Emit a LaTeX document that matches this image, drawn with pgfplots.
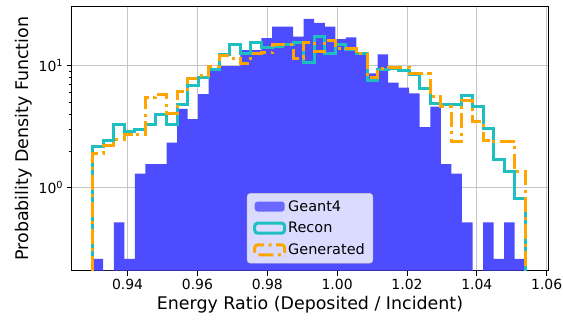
\documentclass[border=0pt]{standalone}
\usepackage{fontspec}
\setmainfont{DejaVu Sans}
\usepackage{pgfplots}
\pgfplotsset{compat=1.18}
\definecolor{geant}{HTML}{4D4DFF}
\definecolor{recon}{HTML}{1FBFBF}
\definecolor{gen}{HTML}{FFA500}
\begin{document}
\begin{tikzpicture}
\path[use as bounding box] (0bp,0bp) rectangle (563bp,323bp);
\begin{axis}[
  at={(71.7bp,52.3bp)}, anchor=south west,
  width=476.6bp, height=264bp, scale only axis,
  ymode=log,
  xmin=0.92400, xmax=1.06046,
  ymin=0.2088, ymax=30.45,
  log origin y=infty,
  xtick={0.94,0.96,0.98,1.00,1.02,1.04,1.06},
  xticklabel style={/pgf/number format/.cd, fixed, fixed zerofill, precision=2, assume math mode=true},
  ytick={1,10},
  yticklabels={10\textsuperscript{0},10\textsuperscript{1}},
  tick label style={font=\fontsize{14}{16}\selectfont, black},
  xtick pos=bottom, ytick pos=left,
  tick align=outside,
  major tick length=5bp, minor tick length=3bp,
  tick style={black, line width=0.8bp},
  grid=major,
  major grid style={gray!45, line width=0.8bp},
  axis line style={black, line width=1bp},
  xlabel={Energy Ratio (Deposited / Incident)},
  ylabel={Probability Density Function},
  label style={font=\fontsize{17.5}{20}\selectfont},
  legend style={at={(0.5,0.028)}, anchor=south, fill=white, fill opacity=0.8, draw opacity=1, text opacity=1, draw=black!20, rounded corners=3bp, font=\fontsize{14.5}{17}\selectfont, row sep=5.5bp, inner xsep=6bp, inner ysep=5bp},
  legend cell align=left,
  clip=true,
]
\addplot[ybar interval, fill=geant, draw=none,
  legend image code/.code={\fill[geant] (0bp,-5bp) rectangle (30bp,5bp);}]
coordinates {
(0.93000,0.2605) (0.93302,0.0001) (0.93604,0.521) (0.93906,0.2605)
(0.94208,1.3025) (0.94511,1.563) (0.94813,1.563) (0.95115,2.3445)
(0.95417,4.4285) (0.95719,3.647) (0.96021,5.86) (0.96323,9.52)
(0.96625,9.90) (0.96927,9.90) (0.97229,13.4) (0.97532,13.4)
(0.97834,16.8) (0.98136,20.9) (0.98438,20.9) (0.98740,17.3)
(0.99042,24.2) (0.99344,22.4) (0.99646,20.9) (0.99948,16.5)
(1.00250,17.1) (1.00553,12.4) (1.00855,8.66) (1.01157,12.4)
(1.01459,7.26) (1.01761,6.6) (1.02063,5.94) (1.02365,3.13)
(1.02667,4.61) (1.02969,1.563) (1.03271,1.3025) (1.03574,0.521)
(1.03876,0.0001) (1.04178,0.521) (1.04480,0.2605) (1.04782,0.521)
(1.05084,0.2605) (1.05386,0.2605)
};
\addlegendentry{Geant4}
\addplot[const plot, recon, line width=3bp,
  legend image code/.code={\draw[recon, line width=3bp] (0bp,-5bp) rectangle (30bp,5bp);}]
coordinates {
(0.93000,0.0001)
(0.93000,2.168) (0.93302,2.460) (0.93604,3.266) (0.93906,2.877)
(0.94208,2.972) (0.94511,3.266) (0.94813,3.945) (0.95115,3.266)
(0.95417,4.763) (0.95719,6.818) (0.96021,8.078) (0.96323,9.22)
(0.96625,12.24) (0.96927,15.06) (0.97229,12.47) (0.97532,15.35)
(0.97834,13.97) (0.98136,14.50) (0.98438,15.06) (0.98740,15.64)
(0.99042,10.72) (0.99344,17.29) (0.99646,12.64) (0.99948,14.78)
(1.00250,13.45) (1.00553,12.64) (1.00855,7.63) (1.01157,9.22)
(1.01459,9.52) (1.01761,9.05) (1.02063,8.39) (1.02365,6.53)
(1.02667,4.92) (1.02969,4.85) (1.03271,4.85) (1.03574,5.75)
(1.03876,4.61) (1.04178,3.03) (1.04480,1.687) (1.04782,1.352)
(1.05084,0.819) (1.05386,0.0001)
};
\addlegendentry{Recon}
\addplot[const plot, gen, line width=3bp, dash pattern=on 15bp off 4.5bp on 3bp off 4.5bp,
  legend image code/.code={\draw[gen, line width=3bp, dash pattern=on 15bp off 4.5bp on 3bp off 4.5bp] (0bp,-5bp) rectangle (30bp,5bp);}]
coordinates {
(0.93000,0.0001)
(0.93000,1.906) (0.93302,2.197) (0.93604,2.507) (0.93906,2.754)
(0.94208,2.704) (0.94511,5.485) (0.94813,5.86) (0.95115,4.02)
(0.95417,6.12) (0.95719,7.88) (0.96021,8.24) (0.96323,9.94)
(0.96625,12.01) (0.96927,11.56) (0.97229,10.52) (0.97532,12.47)
(0.97834,12.71) (0.98136,14.78) (0.98438,14.78) (0.98740,11.56)
(0.99042,15.64) (0.99344,12.95) (0.99646,16.24) (0.99948,13.89)
(1.00250,13.71) (1.00553,12.47) (1.00855,8.00) (1.01157,9.40)
(1.01459,9.67) (1.01761,9.67) (1.02063,8.55) (1.02365,8.55)
(1.02667,5.57) (1.02969,4.61) (1.03271,2.383) (1.03574,5.23)
(1.03876,3.475) (1.04178,2.460) (1.04480,2.383) (1.04782,2.370)
(1.05084,1.352) (1.05386,0.0001)
};
\addlegendentry{Generated}
\end{axis}
\end{tikzpicture}
\end{document}
